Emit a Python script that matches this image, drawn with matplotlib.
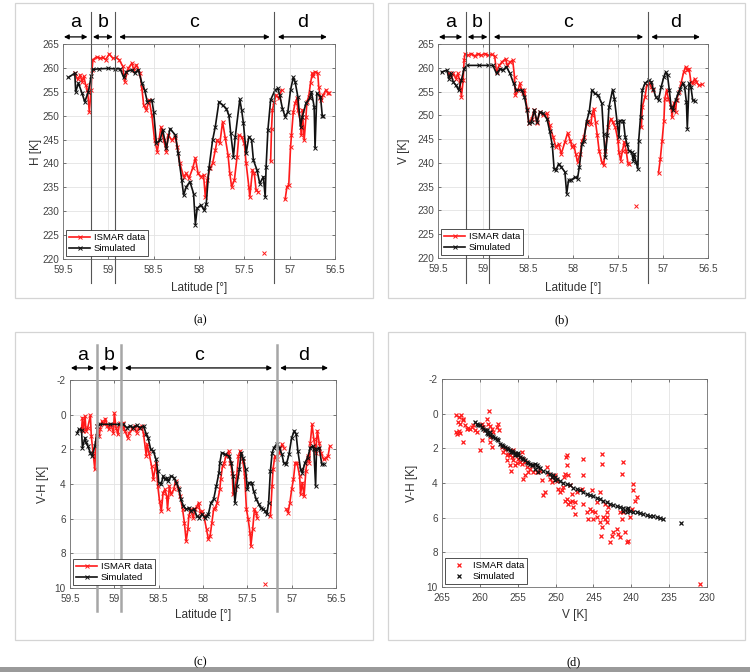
import numpy as np
import matplotlib
matplotlib.use("Agg")
import matplotlib.pyplot as plt
from matplotlib.ticker import FuncFormatter
from matplotlib.patches import Rectangle

plt.rcParams['font.family'] = ['Liberation Sans', 'DejaVu Sans']
plt.rcParams['axes.unicode_minus'] = False

nan = np.nan

# ---------------- Panel (a): H ----------------
a_sim_lat = [59.44, 59.37, 59.36, 59.33, 59.29, 59.26, 59.22, 59.19, 59.17, 59.10, 59.00, 58.93, 58.87, 58.83, 58.80, 58.74, 58.71, 58.67, 58.63, 58.60, 58.57, 58.52, 58.50, 58.47, 58.43, 58.40, 58.36, 58.32, 58.26, 58.23, 58.19, 58.17, 58.14, 58.10, 58.06, 58.04, 58.02, 57.98, 57.94, 57.92, 57.89, 57.85, 57.82, 57.78, 57.74, 57.70, 57.67, 57.65, 57.62, 57.60, 57.55, 57.53, 57.51, 57.48, 57.45, 57.42, 57.40, 57.36, 57.33, 57.29, 57.27, 57.26, 57.24, 57.21, 57.16, 57.13, 57.11, 57.08, 57.05, 57.02, 56.99, 56.96, 56.94, 56.91, 56.88, 56.86, 56.82, 56.78, 56.76, 56.73, 56.72, 56.70, 56.66, 56.64, 56.63]
a_sim_h = [258.0, 258.9, 255.0, 256.8, 254.7, 252.9, 255.0, 258.2, 259.7, 259.8, 259.9, 259.8, 259.8, 258.0, 259.2, 259.6, 258.9, 259.6, 256.8, 255.4, 252.9, 253.3, 250.8, 244.2, 244.9, 247.0, 243.2, 247.3, 245.9, 242.1, 236.5, 233.4, 235.1, 236.2, 233.7, 227.2, 230.6, 231.3, 230.2, 231.6, 239.0, 244.9, 247.7, 252.9, 252.2, 251.5, 250.1, 246.3, 241.4, 245.6, 253.4, 251.2, 248.4, 242.1, 245.6, 244.9, 240.7, 238.6, 235.8, 237.2, 233.0, 239.3, 247.0, 253.3, 255.4, 255.7, 254.3, 251.5, 249.8, 250.8, 255.4, 258.0, 257.1, 254.0, 247.7, 249.8, 252.6, 253.6, 255.0, 251.9, 243.2, 254.7, 254.0, 249.9, 249.9]

a_dat_lat = [59.37, 59.34, 59.31, 59.29, 59.27, 59.25, 59.23, 59.21, 59.19, 59.18, 59.17, 59.13, 59.09, 59.06, 59.03, 58.99, 58.95, 58.92, 58.88, 58.84, 58.82, 58.78, 58.74, 58.72, 58.69, 58.65, 58.63, 58.61, 58.58, 58.55, 58.52, 58.49, 58.46, 58.42, 58.39, 58.36, 58.34, 58.30, 58.26, 58.24, 58.21, 58.17, 58.14, 58.11, 58.07, 58.04, 58.01, 57.98, 57.95, 57.93, 57.91, 57.88, 57.85, 57.82, 57.80, 57.77, 57.74, 57.71, 57.68, 57.66, 57.64, 57.61, 57.58, 57.56, 57.53, 57.50, 57.48, 57.45, 57.44, 57.41, 57.39, 57.37, 57.35, nan, 57.28, nan, 57.21, 57.20, 57.19, 57.17, 57.15, 57.12, 57.09, nan, 57.05, 57.03, 57.01, 56.99, 56.98, 56.96, 56.94, 56.92, 56.91, 56.88, 56.87, 56.86, 56.84, 56.82, 56.81, 56.79, 56.77, 56.75, 56.74, 56.72, 56.69, 56.68, 56.66, 56.65, 56.63, 56.60, 56.58, 56.57]
a_dat_h = [258.9, 257.6, 258.5, 257.1, 258.2, 256.4, 255.4, 250.8, 255.4, 259.6, 261.7, 262.3, 262.0, 262.2, 261.7, 262.9, 262.0, 262.2, 261.7, 260.3, 257.1, 259.9, 261.0, 259.6, 260.6, 258.9, 255.7, 252.2, 251.2, 253.3, 250.1, 244.9, 242.5, 247.6, 244.9, 242.5, 245.9, 244.9, 245.6, 243.5, 240.0, 237.2, 237.9, 236.9, 239.0, 241.1, 237.9, 237.2, 237.6, 233.0, 236.5, 239.0, 240.0, 242.8, 244.9, 244.2, 248.7, 245.3, 241.8, 237.9, 235.1, 236.5, 241.4, 245.9, 245.6, 244.2, 240.0, 235.1, 233.0, 238.6, 237.9, 234.4, 234.1, nan, 221.2, nan, 240.5, 247.3, 251.2, 252.9, 254.3, 253.6, 255.4, nan, 232.5, 235.1, 235.5, 243.5, 245.9, 250.8, 252.6, 253.6, 251.2, 248.7, 245.9, 251.2, 244.9, 249.8, 252.9, 254.0, 256.8, 258.9, 258.2, 259.2, 258.9, 256.1, 253.6, 253.3, 254.3, 255.4, 254.7, 254.8]

# ---------------- Panel (b): V ----------------
b_sim_lat = [59.46, 59.40, 59.38, 59.36, 59.33, 59.30, 59.27, 59.24, 59.21, 59.18, 59.05, 58.95, 58.89, 58.85, 58.81, 58.78, 58.74, 58.70, 58.66, 58.63, 58.57, 58.54, 58.51, 58.49, 58.46, 58.43, 58.40, 58.37, 58.33, 58.29, 58.26, 58.23, 58.21, 58.19, 58.16, 58.13, 58.09, 58.07, 58.05, 58.02, 57.98, 57.95, 57.93, 57.90, 57.88, 57.85, 57.82, 57.79, 57.76, 57.72, 57.68, 57.66, 57.64, 57.62, 57.60, 57.56, 57.54, 57.51, 57.49, 57.48, 57.44, 57.42, 57.40, 57.38, 57.35, 57.33, 57.32, 57.30, 57.28, 57.27, 57.25, 57.23, 57.20, 57.16, 57.13, 57.11, 57.08, 57.05, 57.02, 56.99, 56.97, 56.95, 56.93, 56.91, 56.89, 56.86, 56.83, 56.81, 56.78, 56.76, 56.74, 56.73, 56.71, 56.69, 56.67, 56.65]
b_sim_v = [259.1, 259.5, 257.7, 258.8, 257.0, 256.3, 255.3, 257.4, 259.8, 260.5, 260.5, 260.5, 260.5, 258.8, 259.8, 259.5, 260.2, 258.8, 256.7, 255.3, 255.3, 253.9, 251.1, 248.3, 248.6, 251.1, 248.6, 250.7, 250.4, 249.3, 246.8, 243.7, 238.8, 238.4, 239.8, 239.1, 238.1, 233.5, 236.3, 236.3, 237.0, 236.7, 239.1, 244.0, 244.7, 248.6, 250.7, 255.3, 254.6, 254.2, 252.5, 246.1, 241.2, 245.8, 251.8, 255.4, 253.5, 248.6, 245.4, 248.9, 248.9, 245.4, 244.0, 242.6, 242.3, 240.5, 241.9, 240.2, 238.8, 244.7, 249.6, 255.3, 256.7, 257.4, 257.0, 255.6, 253.9, 253.2, 256.0, 258.1, 259.1, 258.4, 255.3, 251.8, 251.1, 253.2, 254.6, 255.6, 256.7, 256.0, 252.8, 247.2, 256.7, 256.0, 253.2, 253.0]

b_dat_lat = [59.38, 59.36, 59.33, 59.30, 59.28, 59.26, 59.24, 59.22, 59.21, 59.20, 59.17, 59.13, 59.09, 59.06, 59.02, 58.98, 58.94, 58.90, 58.87, 58.85, 58.82, 58.79, 58.75, 58.73, 58.70, 58.67, 58.65, 58.64, 58.61, 58.59, 58.56, 58.54, 58.51, 58.49, 58.46, 58.43, 58.40, 58.37, 58.33, 58.29, 58.26, 58.22, 58.19, 58.16, 58.13, 58.09, 58.06, 58.03, 58.01, 57.99, 57.97, 57.95, 57.92, 57.90, 57.88, 57.85, 57.83, 57.80, 57.79, 57.77, 57.75, 57.73, 57.71, 57.68, 57.66, 57.64, 57.61, 57.58, 57.56, 57.53, 57.50, 57.49, 57.47, 57.45, 57.43, 57.41, 57.39, 57.38, nan, 57.30, nan, 57.24, 57.23, 57.20, 57.18, 57.15, 57.13, 57.11, nan, 57.05, 57.03, 57.01, 56.99, 56.98, 56.96, 56.94, 56.91, 56.90, 56.88, 56.86, 56.85, 56.82, 56.80, 56.77, 56.75, 56.73, 56.71, 56.69, 56.67, 56.65, 56.63, 56.60, 56.57]
b_dat_v = [258.8, 258.1, 258.8, 257.7, 258.8, 257.4, 253.9, 257.4, 261.6, 263.0, 262.6, 263.0, 262.4, 263.0, 262.6, 263.0, 262.6, 262.8, 262.4, 259.1, 260.5, 261.2, 261.9, 260.5, 261.2, 261.6, 258.1, 254.2, 255.3, 256.7, 254.6, 255.3, 251.4, 248.3, 249.3, 251.1, 248.3, 250.7, 250.0, 250.4, 247.9, 245.4, 243.3, 244.0, 241.9, 244.4, 246.3, 244.7, 243.3, 243.7, 241.9, 240.2, 241.9, 244.7, 245.4, 248.2, 248.9, 248.2, 250.0, 251.4, 248.6, 245.8, 242.6, 240.2, 239.5, 242.6, 247.5, 249.3, 248.6, 247.5, 244.7, 242.3, 240.5, 242.6, 244.4, 242.6, 240.0, 239.8, nan, 231.0, nan, 247.5, 251.8, 253.9, 256.3, 256.7, 256.0, 255.3, nan, 237.9, 240.8, 244.7, 248.9, 253.5, 255.3, 253.5, 251.8, 249.6, 252.5, 250.7, 253.2, 255.0, 256.7, 259.1, 260.2, 259.5, 259.8, 257.0, 256.7, 257.7, 257.0, 256.3, 256.5]

# ---------------- Panel (c): V-H ----------------
c_sim_lat = [59.42, 59.40, 59.37, 59.36, 59.33, 59.32, 59.30, 59.27, 59.25, 59.22, 59.20, 59.19, 59.16, 59.05, 58.95, 58.90, 58.86, 58.82, 58.79, 58.75, 58.71, 58.67, 58.64, 58.62, 58.59, 58.56, 58.53, 58.51, 58.50, 58.47, 58.45, 58.43, 58.41, 58.39, 58.36, 58.33, 58.30, 58.27, 58.25, 58.22, 58.19, 58.16, 58.14, 58.10, 58.07, 58.04, 58.01, 57.98, 57.96, 57.94, 57.91, 57.88, 57.85, 57.82, 57.81, 57.79, 57.75, 57.71, 57.68, 57.66, 57.64, 57.62, 57.59, 57.57, 57.55, 57.52, 57.50, 57.48, 57.45, 57.43, 57.40, 57.37, 57.35, 57.32, 57.30, 57.28, 57.26, 57.24, 57.22, 57.20, 57.17, 57.14, 57.11, 57.09, 57.06, 57.03, 57.00, 56.97, 56.95, 56.93, 56.90, 56.88, 56.85, 56.82, 56.79, 56.76, 56.75, 56.73, 56.72, 56.69, 56.66, 56.64]
c_sim_vh = [1.04, 0.85, 0.88, 1.9, 1.33, 1.6, 1.8, 2.2, 2.4, 1.8, 1.23, 0.65, 0.56, 0.55, 0.56, 0.56, 0.75, 0.65, 0.75, 0.62, 0.75, 0.65, 1.13, 1.33, 2.0, 2.1, 2.58, 3.25, 3.92, 4.0, 3.54, 3.73, 3.63, 3.83, 3.54, 3.63, 3.92, 4.3, 4.88, 5.27, 5.46, 5.37, 5.56, 5.46, 5.85, 5.94, 5.75, 5.94, 5.85, 5.75, 5.08, 4.88, 4.12, 3.35, 2.77, 2.19, 2.29, 2.38, 2.77, 3.54, 5.08, 4.12, 3.15, 2.19, 2.48, 3.15, 4.31, 3.92, 3.92, 4.4, 4.88, 5.17, 5.37, 5.46, 5.56, 5.75, 5.08, 3.25, 2.19, 1.9, 1.71, 1.9, 2.29, 2.77, 2.87, 2.29, 1.33, 0.94, 1.13, 2.1, 3.15, 3.35, 2.77, 2.48, 1.9, 1.81, 2.0, 4.12, 2.0, 1.9, 2.87, 2.87]

c_dat_lat = [59.37, 59.36, 59.35, 59.33, 59.32, 59.30, 59.27, 59.26, 59.24, 59.22, 59.21, 59.19, 59.17, 59.16, 59.14, 59.12, 59.10, 59.08, 59.06, 59.04, 59.01, 59.00, 58.98, 58.96, 58.94, 58.91, 58.90, 58.88, 58.85, 58.83, 58.80, 58.77, 58.75, 58.72, 58.69, 58.67, 58.64, 58.63, 58.61, 58.58, 58.56, 58.53, 58.51, 58.49, 58.47, 58.45, 58.43, 58.41, 58.40, 58.38, 58.36, 58.33, 58.31, 58.28, 58.26, 58.23, 58.21, 58.19, 58.17, 58.16, 58.14, 58.11, 58.09, 58.07, 58.05, 58.03, 58.01, 57.99, 57.96, 57.94, 57.92, 57.90, 57.88, 57.86, 57.84, 57.81, 57.80, 57.78, 57.76, 57.74, 57.71, 57.69, 57.67, 57.66, 57.64, 57.62, 57.60, 57.58, 57.55, 57.53, 57.51, 57.49, 57.47, 57.46, 57.44, 57.42, 57.40, 57.39, nan, 57.30, nan, 57.24, 57.22, 57.21, 57.19, 57.17, 57.14, 57.11, 57.09, nan, 57.06, 57.04, 57.02, 57.00, 56.98, 56.96, 56.94, 56.91, 56.90, 56.88, 56.86, 56.84, 56.82, 56.80, 56.79, 56.77, 56.75, 56.73, 56.71, 56.69, 56.67, 56.64, 56.61, 56.59, 56.57]
c_dat_vh = [0.85, 0.17, 0.94, 0.08, 0.94, 0.75, 0.04, 1.23, 2.19, 3.15, 1.62, 0.65, 1.23, 0.85, 0.37, 0.56, 0.23, 0.65, 0.85, 0.56, 1.04, -0.08, 0.75, 1.13, 0.46, 0.85, 0.46, 0.94, 1.33, 1.04, 0.85, 0.65, 1.04, 0.75, 0.65, 1.13, 2.38, 1.71, 2.19, 2.96, 3.73, 2.77, 4.12, 4.98, 5.56, 4.5, 4.31, 4.69, 5.46, 4.12, 4.6, 4.31, 3.83, 4.21, 4.69, 5.46, 6.23, 7.29, 6.6, 5.85, 5.46, 5.94, 5.46, 5.3, 5.08, 5.65, 5.56, 5.85, 6.62, 7.19, 7.0, 6.23, 5.46, 5.37, 5.08, 4.31, 3.73, 2.96, 2.77, 2.38, 2.1, 2.77, 3.35, 4.6, 4.31, 3.54, 2.38, 2.1, 2.67, 3.54, 5.46, 6.04, 6.81, 7.58, 6.62, 5.46, 5.65, 5.94, nan, 9.79, nan, 5.85, 4.12, 3.15, 2.38, 2.58, 2.19, 1.71, 1.9, nan, 5.46, 5.65, 5.08, 4.31, 3.73, 2.77, 2.77, 3.54, 4.6, 3.92, 4.69, 3.25, 2.38, 2.77, 1.62, 0.56, 1.42, 2.19, 0.94, 1.62, 2.19, 2.58, 2.48, 2.38, 1.81]

# ---------------- Panel (d): V vs V-H scatter ----------------
d_dat_v = [263.09, 262.73, 262.43, 262.20, 262.87, 262.56, 263.17, 263.00, 262.73, 262.56, 262.29, 261.98, 261.76, 261.54, 261.32, 261.10, 260.88, 260.66, 260.44, 262.20, 260.00, 259.78, 259.56, 259.34, 259.12, 258.90, 258.77, 258.68, 258.46, 258.24, 257.80, 257.57, 257.44, 258.68, 258.46, 258.68, 259.78, 257.13, 256.91, 256.69, 256.47, 256.25, 256.03, 255.81, 256.47, 256.03, 255.94, 255.59, 255.37, 255.15, 254.93, 254.71, 254.49, 254.27, 254.05, 253.83, 253.61, 253.39, 253.17, 252.95, 252.50, 252.06, 254.49, 254.27, 254.05, 254.71, 255.15, 255.59, 251.84, 251.62, 251.40, 251.18, 250.96, 250.74, 250.52, 250.30, 250.08, 249.86, 249.64, 249.42, 249.20, 248.98, 248.89, 248.76, 248.54, 248.62, 248.32, 248.10, 247.87, 248.76, 248.54, 248.32, 248.10, 247.87, 247.65, 247.43, 247.21, 247.43, 248.54, 246.33, 246.33, 246.55, 246.33, 245.89, 245.67, 245.45, 245.23, 245.01, 245.23, 244.57, 244.13, 244.13, 243.91, 243.82, 243.82, 243.69, 243.47, 243.25, 243.25, 243.02, 242.80, 242.58, 242.36, 241.92, 241.70, 241.48, 241.26, 241.13, 241.04, 241.26, 240.82, 240.60, 240.38, 240.16, 239.94, 239.81, 239.72, 239.50, 239.28, 241.48, 243.25, 243.99, 243.47, 244.57, 244.79, 230.90]
d_dat_vh = [0.06, 0.19, 0.10, 0.29, 0.48, 0.58, 1.06, 1.16, 1.02, 1.10, 0.39, 0.67, 0.87, 0.83, 0.91, 0.77, 0.67, 0.96, 1.06, 1.64, 2.12, 0.58, 0.77, 0.96, 0.29, 0.58, -0.13, 0.71, 0.87, 1.06, 0.77, 0.58, 0.96, 1.35, 1.93, 1.64, 1.54, 1.93, 2.22, 2.06, 2.41, 2.31, 2.37, 2.50, 2.70, 2.95, 3.28, 2.70, 2.99, 2.83, 2.60, 2.76, 2.89, 3.76, 3.56, 3.08, 3.37, 3.18, 2.95, 3.37, 3.37, 3.28, 2.22, 2.60, 2.79, 2.50, 2.41, 2.12, 3.85, 4.72, 4.53, 3.08, 3.47, 3.76, 3.95, 3.66, 3.56, 3.91, 4.34, 4.53, 4.43, 4.24, 3.66, 3.47, 2.99, 2.50, 3.56, 4.14, 4.62, 5.01, 4.91, 5.20, 5.11, 5.01, 5.39, 5.11, 4.53, 5.78, 2.41, 2.60, 3.56, 4.34, 5.20, 5.68, 6.07, 5.49, 5.59, 6.07, 4.43, 5.97, 4.53, 6.26, 6.55, 2.31, 2.89, 5.97, 6.07, 5.97, 6.26, 5.39, 7.42, 7.03, 6.84, 6.65, 6.94, 7.13, 6.07, 5.68, 2.79, 3.47, 6.84, 7.42, 7.32, 5.97, 5.49, 4.05, 4.43, 5.01, 4.82, 5.68, 5.68, 7.03, 5.20, 5.11, 5.68, 9.83]

d_sim_v = [260.66, 260.44, 260.22, 260.00, 259.78, 259.56, 259.34, 259.12, 258.90, 258.68, 258.46, 258.24, 258.02, 257.80, 257.57, 257.35, 257.13, 256.91, 256.69, 256.47, 256.25, 256.03, 255.81, 255.59, 255.37, 255.15, 254.93, 254.71, 254.49, 254.27, 254.05, 253.83, 253.61, 253.39, 253.17, 252.95, 252.72, 252.50, 252.28, 252.06, 251.62, 251.18, 250.74, 250.30, 250.08, 249.86, 249.42, 248.98, 248.54, 248.10, 247.65, 247.21, 246.77, 246.33, 245.89, 245.45, 245.01, 244.57, 244.13, 243.69, 243.25, 242.80, 242.36, 241.92, 241.48, 241.04, 240.60, 240.16, 239.72, 239.28, 238.84, 238.40, 237.95, 237.51, 237.07, 236.63, 236.19, 235.75, 233.46, 255.94, 255.37, 254.93, 252.72, 252.28, 250.52, 250.08, 259.12, 258.68, 241.04, 240.60, 240.38]
d_sim_vh = [0.48, 0.58, 0.64, 0.67, 0.77, 0.87, 0.96, 1.10, 1.16, 1.21, 1.29, 1.35, 1.41, 1.48, 1.54, 1.73, 1.83, 1.87, 1.93, 1.98, 2.06, 2.12, 2.18, 2.22, 2.25, 2.31, 2.41, 2.50, 2.56, 2.64, 2.70, 2.76, 2.83, 2.89, 2.95, 2.99, 2.89, 2.99, 3.08, 3.14, 3.28, 3.37, 3.47, 3.56, 3.66, 3.76, 3.91, 3.99, 4.05, 4.14, 4.30, 4.37, 4.43, 4.53, 4.62, 4.68, 4.76, 4.87, 4.95, 5.01, 5.11, 5.20, 5.26, 5.34, 5.39, 5.45, 5.49, 5.59, 5.65, 5.68, 5.74, 5.78, 5.84, 5.88, 5.93, 5.97, 6.01, 6.07, 6.30, 2.22, 2.41, 2.25, 3.18, 3.37, 3.66, 3.85, 0.96, 1.06, 5.59, 5.68, 5.45]

# Region annotations (latitude)
region_bounds = [59.19, 58.93, 57.17]
region_names = ['a', 'b', 'c', 'd']
region_spans = [(59.49, 59.23), (59.17, 58.95), (58.88, 57.22), (57.13, 56.59)]

RED = '#ff1a1a'
BLACK = '#111111'
W, H = 750, 672

fig = plt.figure(figsize=(7.5, 6.72), dpi=100)

def fbox(x0, y0, x1, y1):
    return [x0 / W, 1 - y1 / H, (x1 - x0) / W, (y1 - y0) / H]

# subfigure frames
for (x0, y0, x1, y1) in [(15, 3, 373, 298), (388, 3, 745, 298), (15, 332, 373, 640), (388, 332, 745, 640)]:
    fig.patches.append(Rectangle((x0 / W, 1 - y1 / H), (x1 - x0) / W, (y1 - y0) / H,
                                 transform=fig.transFigure, fill=False, ec='#d4d4d4', lw=0.9))
fig.patches.append(Rectangle((0, 0), 1, 5 / H, transform=fig.transFigure, fc='#9a9a9a', ec='none'))

fmt = FuncFormatter(lambda v, p: f'{v:g}')

def style(ax):
    ax.grid(True, color='#e3e3e3', lw=0.6)
    ax.set_axisbelow(True)
    for s in ax.spines.values():
        s.set_color('#6e6e6e')
        s.set_linewidth(0.6)
    ax.tick_params(direction='in', length=2.5, width=0.5, labelsize=7.2, colors='#444444',
                   top=True, right=True)
    ax.tick_params(axis='x', pad=4)
    ax.tick_params(axis='y', pad=3)
    ax.xaxis.set_major_formatter(fmt)
    ax.yaxis.set_major_formatter(fmt)

def regions(ax, lo, hi, lc, lw, arrow_y, text_y):
    for b in region_bounds:
        ax.axvline(b, ymin=lo, ymax=hi, color=lc, lw=lw, clip_on=False, zorder=5)
    for name, (x1, x2) in zip(region_names, region_spans):
        ax.annotate('', xy=(x2, arrow_y), xytext=(x1, arrow_y), xycoords=('data', 'axes fraction'),
                    textcoords=('data', 'axes fraction'),
                    arrowprops=dict(arrowstyle='<|-|>', color='k', lw=0.9, mutation_scale=7,
                                    shrinkA=0, shrinkB=0), annotation_clip=False)
        ax.text((x1 + x2) / 2, text_y, name, transform=ax.get_xaxis_transform(),
                ha='center', va='center', fontsize=14, color='k')

def labels(ax, xl, yl, xlab_y, ylab_x):
    ax.set_xlabel(xl, fontsize=8.5, color='#333333')
    ax.set_ylabel(yl, fontsize=8.5, color='#333333')
    ax.xaxis.set_label_coords(0.5, xlab_y)
    ax.yaxis.set_label_coords(ylab_x, 0.5)

def lat_axis(ax):
    ax.set_xlim(59.5, 56.5)
    ax.set_xticks([59.5, 59, 58.5, 58, 57.5, 57, 56.5])

lkw = dict(lw=1.2, marker='x', ms=2.2, mew=0.7)
legkw = dict(loc='lower left', fontsize=6.8, fancybox=False, framealpha=1, edgecolor='#333333',
             borderaxespad=0.35, handlelength=2.2, borderpad=0.3, labelspacing=0.2, handletextpad=0.4)

# Panel (a)
ax = fig.add_axes(fbox(63, 44, 335, 259))
ax.plot(a_dat_lat, a_dat_h, color=RED, label='ISMAR data', **lkw)
ax.plot(a_sim_lat, a_sim_h, color=BLACK, label='Simulated', **lkw)
lat_axis(ax)
ax.set_ylim(220, 265)
ax.set_yticks(range(220, 266, 5))
style(ax)
labels(ax, 'Latitude [°]', 'H [K]', -0.107, -0.077)
leg = ax.legend(**legkw); leg.get_frame().set_linewidth(0.6)
regions(ax, -0.112, 1.149, '#555555', 0.8, 1.033, 1.10)

# Panel (b)
ax = fig.add_axes(fbox(438, 44, 708, 258))
ax.plot(b_dat_lat, b_dat_v, color=RED, label='ISMAR data', **lkw)
ax.plot(b_sim_lat, b_sim_v, color=BLACK, label='Simulated', **lkw)
lat_axis(ax)
ax.set_ylim(220, 265)
ax.set_yticks(range(220, 266, 5))
style(ax)
labels(ax, 'Latitude [°]', 'V [K]', -0.11, -0.105)
leg = ax.legend(**legkw); leg.get_frame().set_linewidth(0.6)
regions(ax, -0.115, 1.15, '#555555', 0.8, 1.033, 1.10)

# Panel (c)
ax = fig.add_axes(fbox(70, 380, 336, 588))
ax.plot(c_dat_lat, c_dat_vh, color=RED, label='ISMAR data', **lkw)
ax.plot(c_sim_lat, c_sim_vh, color=BLACK, label='Simulated', **lkw)
lat_axis(ax)
ax.set_ylim(10, -2)
ax.set_yticks(range(-2, 11, 2))
style(ax)
labels(ax, 'Latitude [°]', 'V-H [K]', -0.102, -0.078)
leg = ax.legend(**legkw); leg.get_frame().set_linewidth(0.6)
regions(ax, -0.11, 1.168, '#a6a6a6', 1.8, 1.058, 1.12)

# Panel (d)
ax = fig.add_axes(fbox(442, 379, 707, 587))
ax.plot(d_dat_v, d_dat_vh, ls='none', marker='x', ms=2.8, mew=0.9, color=RED, label='ISMAR data')
ax.plot(d_sim_v, d_sim_vh, ls='none', marker='x', ms=2.8, mew=0.9, color=BLACK, label='Simulated')
ax.set_xlim(265, 230)
ax.set_xticks(range(265, 229, -5))
ax.set_ylim(10, -2)
ax.set_yticks(range(-2, 11, 2))
style(ax)
labels(ax, 'V [K]', 'V-H [K]', -0.107, -0.089)
leg = ax.legend(**legkw); leg.get_frame().set_linewidth(0.6)

# captions
for txt, x, y in [('(a)', 200, 320), ('(b)', 562, 320), ('(c)', 200, 662), ('(d)', 574, 662)]:
    fig.text(x / W, 1 - y / H, txt, ha='center', va='center', fontsize=9,
             family=['Liberation Serif', 'DejaVu Serif'])

fig.savefig('out.png', dpi=100)
